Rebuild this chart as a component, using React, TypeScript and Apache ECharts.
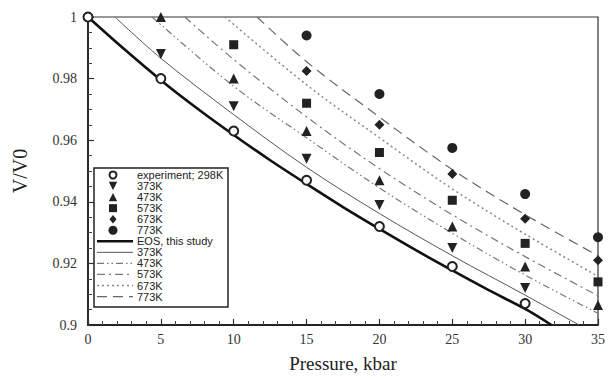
import React, { useEffect, useRef } from "react";
import * as echarts from "echarts";

// experiment data (pressure kbar, V/V0)
const exp298: number[][] = [[0, 1], [5, 0.98], [10, 0.963], [15, 0.947], [20, 0.932], [25, 0.919], [30, 0.907]];
const exp373: number[][] = [[5, 0.988], [10, 0.971], [15, 0.954], [20, 0.939], [25, 0.925], [30, 0.912]];
const exp473: number[][] = [[5, 1.0], [10, 0.98], [15, 0.963], [20, 0.947], [25, 0.932], [30, 0.919], [35, 0.9065]];
const exp573: number[][] = [[10, 0.991], [15, 0.972], [20, 0.956], [25, 0.9405], [30, 0.9265], [35, 0.914]];
const exp673: number[][] = [[15, 0.9825], [20, 0.965], [25, 0.949], [30, 0.9345], [35, 0.921]];
const exp773: number[][] = [[15, 0.994], [20, 0.975], [25, 0.9575], [30, 0.9425], [35, 0.9285]];

// EOS curves
const eos298: number[][] = [[0, 1], [2.5, 0.9895], [5, 0.9795], [7.5, 0.9703], [10, 0.9617], [12.5, 0.9535], [15, 0.9458], [17.5, 0.9383], [20, 0.9312], [22.5, 0.9243], [25, 0.9177], [27.5, 0.9113], [30, 0.9052], [31.8, 0.9]];
const eos373: number[][] = [[1.85, 1], [5, 0.9866], [10, 0.9683], [15, 0.9512], [20, 0.9362], [25, 0.9225], [30, 0.9097], [33.7, 0.9]];
const eos473: number[][] = [[4.4, 1], [10, 0.9775], [15, 0.9608], [20, 0.9445], [25, 0.9298], [30, 0.9162], [35, 0.9038]];
const eos573: number[][] = [[6.65, 1], [10, 0.9862], [15, 0.9676], [20, 0.9508], [25, 0.9358], [30, 0.9222], [35, 0.9095]];
const eos673: number[][] = [[9.4, 1], [15, 0.978], [20, 0.9608], [25, 0.9442], [30, 0.9295], [35, 0.9158]];
const eos773: number[][] = [[11.6, 1], [15, 0.9855], [20, 0.9675], [25, 0.9505], [30, 0.9358], [35, 0.9225]];

const legendLabels: string[] = [
  "experiment; 298K", "373K", "473K", "573K", "673K", "773K",
  "EOS, this study", "373K", "473K", "573K", "673K", "773K",
];

const MK = "#222";

export default function App() {
  const ref = useRef<HTMLDivElement>(null);
  useEffect(() => {
    if (!ref.current) return;
    const chart = echarts.init(ref.current, undefined, { renderer: "svg" });

    const lineStyles: any[] = [
      { color: "#111", width: 2.6, type: "solid" },
      { color: "#555", width: 1, type: "solid" },
      { color: "#777", width: 1.2, type: [7, 3, 1.5, 3, 1.5, 3] },
      { color: "#777", width: 1.2, type: [8, 4, 2, 4] },
      { color: "#888", width: 1.5, type: [2, 3] },
      { color: "#666", width: 1.2, type: [10, 6] },
    ];
    const curves = [eos298, eos373, eos473, eos573, eos673, eos773];
    const exps = [exp298, exp373, exp473, exp573, exp673, exp773];
    const symbols: any[] = [
      { symbol: "circle", size: 9, rotate: 0, hollow: true },
      { symbol: "triangle", size: 10, rotate: 180 },
      { symbol: "triangle", size: 10, rotate: 0 },
      { symbol: "rect", size: 9, rotate: 0 },
      { symbol: "diamond", size: 10, rotate: 0 },
      { symbol: "circle", size: 10, rotate: 0 },
    ];

    const series: any[] = [];
    curves.forEach((d, i) => {
      series.push({
        type: "line",
        name: "eos" + i,
        data: d,
        smooth: 0.35,
        showSymbol: false,
        symbol: "none",
        lineStyle: lineStyles[i],
        z: 2,
      });
    });
    exps.forEach((d, i) => {
      const s = symbols[i];
      series.push({
        type: "scatter",
        name: "exp" + i,
        data: d,
        symbol: s.symbol,
        symbolSize: s.size,
        symbolRotate: s.rotate,
        itemStyle: s.hollow
          ? { color: "#fff", borderColor: MK, borderWidth: 2, opacity: 1 }
          : { color: MK, opacity: 1 },
        z: 5,
      });
    });

    // legend graphic
    const lx = 113, l1 = 97, l2 = 133, tx = 137, y0 = 175, step = 11.05;
    const g: any[] = [
      {
        type: "rect",
        shape: { x: 94, y: 168, width: 134, height: 139 },
        style: { fill: "#fff", stroke: "#222", lineWidth: 1.5 },
        z: 10,
      },
    ];
    legendLabels.forEach((lab, i) => {
      const y = y0 + i * step;
      g.push({
        type: "text",
        x: tx,
        y,
        style: { text: lab, fontFamily: "Liberation Sans", fontSize: 11, fill: "#222", verticalAlign: "middle" },
        z: 11,
      });
      if (i < 6) {
        const r = 4.2;
        let el: any;
        if (i === 0) el = { type: "circle", shape: { cx: lx, cy: y, r: 3.5 }, style: { fill: "#fff", stroke: MK, lineWidth: 2 } };
        else if (i === 1) el = { type: "polygon", shape: { points: [[lx - r, y - r], [lx + r, y - r], [lx, y + r]] }, style: { fill: MK } };
        else if (i === 2) el = { type: "polygon", shape: { points: [[lx - r, y + r], [lx + r, y + r], [lx, y - r]] }, style: { fill: MK } };
        else if (i === 3) el = { type: "rect", shape: { x: lx - 4, y: y - 4, width: 8, height: 8 }, style: { fill: MK } };
        else if (i === 4) el = { type: "polygon", shape: { points: [[lx, y - r], [lx + 3.5, y], [lx, y + r], [lx - 3.5, y]] }, style: { fill: MK } };
        else el = { type: "circle", shape: { cx: lx, cy: y, r: 4.5 }, style: { fill: MK } };
        el.z = 11;
        g.push(el);
      } else {
        const ls = lineStyles[i - 6];
        g.push({
          type: "line",
          shape: { x1: l1, y1: y, x2: l2, y2: y },
          style: {
            stroke: ls.color,
            lineWidth: ls.width,
            lineDash: Array.isArray(ls.type) ? ls.type : null,
          },
          z: 11,
        });
      }
    });

    const labelStyle = { fontFamily: "Liberation Serif", fontSize: 14, color: "#333" };

    chart.setOption({
      animation: false,
      backgroundColor: "#fff",
      grid: {
        left: 88, right: 12, top: 17, bottom: 50,
        show: true, borderColor: "#333", borderWidth: 1.2, backgroundColor: "transparent",
      },
      xAxis: {
        type: "value",
        min: 0, max: 35, interval: 5,
        name: "Pressure, kbar",
        nameLocation: "middle",
        nameGap: 29,
        nameTextStyle: { fontFamily: "Liberation Serif", fontSize: 19, color: "#222" },
        axisLine: { show: true, lineStyle: { color: "#222", width: 1.8 } },
        axisTick: { show: true, inside: true, length: 6, lineStyle: { color: "#333", width: 1.2 } },
        minorTick: { show: true, splitNumber: 5, length: 4, lineStyle: { color: "#444", width: 1 } },
        splitLine: { show: false },
        axisLabel: { ...labelStyle, margin: 7 },
      },
      yAxis: {
        type: "value",
        min: 0.9, max: 1, interval: 0.02,
        name: "V/V0",
        nameLocation: "middle",
        nameGap: 58,
        nameRotate: 90,
        nameTextStyle: { fontFamily: "Liberation Serif", fontSize: 20, color: "#222" },
        axisLine: { show: true, lineStyle: { color: "#222", width: 1.8 } },
        axisTick: { show: true, inside: true, length: 6, lineStyle: { color: "#333", width: 1.2 } },
        minorTick: { show: true, splitNumber: 4, length: 4, lineStyle: { color: "#444", width: 1 } },
        splitLine: { show: false },
        axisLabel: {
          ...labelStyle,
          margin: 11,
          formatter: (v: number) => String(parseFloat(v.toFixed(3))),
        },
      },
      series,
      graphic: g,
    });

    return () => chart.dispose();
  }, []);

  return <div ref={ref} style={{ position: "fixed", left: 0, top: 0, width: 610, height: 378 }} />;
}
